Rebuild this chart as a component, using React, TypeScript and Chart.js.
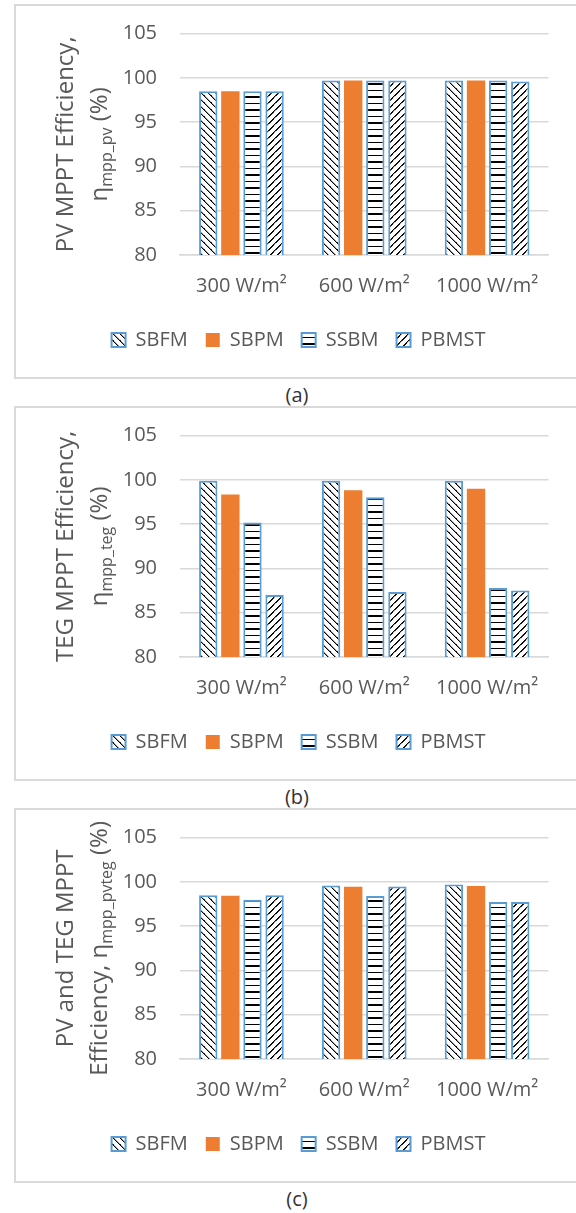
import React, { useEffect, useRef } from 'react';
import { Chart, registerables } from 'chart.js';

Chart.register(...registerables);

// ---------- data ----------
const categories = ['300 W/m²', '600 W/m²', '1000 W/m²'];
const seriesNames = ['SBFM', 'SBPM', 'SSBM', 'PBMST'];
const yMin = 80;
const yMax = 105;
const yStep = 5;

// (a) PV MPPT efficiency
const pvSBFM = [98.5, 99.7, 99.7];
const pvSBPM = [98.5, 99.7, 99.7];
const pvSSBM = [98.5, 99.7, 99.7];
const pvPBMST = [98.5, 99.7, 99.6];

// (b) TEG MPPT efficiency
const tegSBFM = [99.9, 99.9, 99.9];
const tegSBPM = [98.35, 98.85, 99.0];
const tegSSBM = [95.2, 98.05, 87.8];
const tegPBMST = [87.0, 87.35, 87.5];

// (c) PV and TEG MPPT efficiency
const pvtegSBFM = [98.5, 99.6, 99.7];
const pvtegSBPM = [98.45, 99.45, 99.55];
const pvtegSSBM = [98.0, 98.4, 97.75];
const pvtegPBMST = [98.5, 99.5, 97.75];

type Seg = { t: string; sub?: boolean };

const titleA: Seg[][] = [
  [{ t: 'PV MPPT Efficiency,' }],
  [{ t: 'η' }, { t: 'mpp_pv', sub: true }, { t: ' (%)' }],
];
const titleB: Seg[][] = [
  [{ t: 'TEG MPPT Efficiency,' }],
  [{ t: 'η' }, { t: 'mpp_teg', sub: true }, { t: ' (%)' }],
];
const titleC: Seg[][] = [
  [{ t: 'PV and TEG MPPT' }],
  [{ t: 'Efficiency, η' }, { t: 'mpp_pvteg', sub: true }, { t: ' (%)' }],
];

// ---------- styles ----------
const FONT = "'Open Sans', 'DejaVu Sans', sans-serif";
const TEXT = '#595959';
const BLUE = '#5B9BD5';
const ORANGE = '#ED7D31';
const GRID = '#D9D9D9';
const LEGEND_PAD = 18;
const CANVAS_W = 567;
const CANVAS_H = 373;

function makePattern(ctx: CanvasRenderingContext2D, kind: 'd' | 'u' | 'h') {
  const n = kind === 'h' ? 13 : 7;
  const c = document.createElement('canvas');
  c.width = n;
  c.height = n;
  const g = c.getContext('2d')!;
  g.fillStyle = '#ffffff';
  g.fillRect(0, 0, n, n);
  for (let y = 0; y < n; y++) {
    for (let x = 0; x < n; x++) {
      let col = '';
      if (kind === 'd' || kind === 'u') {
        const k = kind === 'd' ? (x - y + n) % n : (x + y) % n;
        if (k === 0) col = '#000000';
        else if (k === 1) col = (x + y) % 2 === 0 ? '#222222' : '#9a9a9a';
      } else if (y === 0 || y === 1 || y === 7) {
        col = '#000000';
      }
      if (col) {
        g.fillStyle = col;
        g.fillRect(x, y, 1, 1);
      }
    }
  }
  return ctx.createPattern(c, 'repeat') as CanvasPattern;
}

function makeYTitlePlugin(lines: Seg[][]) {
  const baselines = [58.3, 91.7];
  return {
    id: 'yTitleCustom',
    afterDraw(chart: any) {
      const { ctx, chartArea } = chart;
      const cy = (chartArea.top + chartArea.bottom) / 2;
      lines.forEach((segs, i) => {
        ctx.save();
        ctx.translate(baselines[i], cy);
        ctx.rotate(-Math.PI / 2);
        ctx.fillStyle = TEXT;
        ctx.textBaseline = 'alphabetic';
        ctx.textAlign = 'left';
        const fontFor = (s: Seg) => `${s.sub ? 16 : 24}px ${FONT}`;
        let total = 0;
        const widths = segs.map((s) => {
          ctx.font = fontFor(s);
          const w = ctx.measureText(s.t).width;
          total += w;
          return w;
        });
        let x = -total / 2;
        segs.forEach((s, j) => {
          ctx.font = fontFor(s);
          ctx.fillText(s.t, x, s.sub ? 5 : 0);
          x += widths[j];
        });
        ctx.restore();
      });
    },
  };
}

type PanelProps = {
  top: number;
  values: number[][];
  title: Seg[][];
  caption: string;
};

function Panel({ top, values, title, caption }: PanelProps) {
  const ref = useRef<HTMLCanvasElement>(null);

  useEffect(() => {
    const canvas = ref.current!;
    const ctx = canvas.getContext('2d')!;
    const fills: (string | CanvasPattern)[] = [
      makePattern(ctx, 'd'),
      ORANGE,
      makePattern(ctx, 'h'),
      makePattern(ctx, 'u'),
    ];
    const chart = new Chart(canvas, {
      type: 'bar',
      data: {
        labels: categories,
        datasets: seriesNames.map((name, i) => ({
          label: name,
          data: values[i],
          backgroundColor: fills[i] as any,
          borderColor: BLUE,
          borderWidth: i === 1 ? 0 : 2,
          borderSkipped: false,
          categoryPercentage: 0.72,
          barPercentage: 0.83,
        })),
      },
      options: {
        responsive: false,
        animation: false,
        layout: { padding: { top: 28.7, left: 0, right: 0, bottom: 18 } },
        font: { family: FONT },
        plugins: {
          legend: {
            position: 'bottom',
            labels: {
              boxWidth: 14,
              boxHeight: 14,
              padding: LEGEND_PAD,
              color: TEXT,
              font: { family: FONT, size: 20 },
            },
          },
          tooltip: { enabled: false },
          title: { display: false },
        },
        scales: {
          x: {
            grid: { display: false, drawTicks: false },
            border: { display: true, color: GRID, width: 1.5 },
            ticks: { color: TEXT, font: { family: FONT, size: 20 }, padding: 19, maxRotation: 0 },
            afterFit: (s: any) => {
              s.height = 75 - LEGEND_PAD;
            },
          },
          y: {
            min: yMin,
            max: yMax,
            ticks: { stepSize: yStep, color: TEXT, font: { family: FONT, size: 20 }, padding: 0 },
            grid: {
              color: GRID,
              lineWidth: 1.5,
              drawTicks: true,
              tickLength: 23,
              tickColor: 'rgba(0,0,0,0)',
            },
            border: { display: false },
            afterFit: (s: any) => {
              s.width = 165;
            },
          },
          y2: {
            type: 'linear',
            position: 'right',
            display: true,
            grid: { display: false, drawTicks: false },
            border: { display: false },
            ticks: { display: false },
            afterFit: (s: any) => {
              s.width = 33.5;
            },
          },
        },
      } as any,
      plugins: [makeYTitlePlugin(title)],
    });
    return () => chart.destroy();
  }, []);

  return (
    <>
      <div
        style={{
          position: 'absolute',
          left: 14,
          top: top - 1,
          width: 620,
          height: 375,
          border: '2px solid #d9d9d9',
          boxSizing: 'border-box',
        }}
      />
      <canvas
        ref={ref}
        width={CANVAS_W}
        height={CANVAS_H}
        style={{ position: 'absolute', left: 15, top, width: CANVAS_W, height: CANVAS_H }}
      />
      <div
        style={{
          position: 'absolute',
          left: 0,
          width: 594,
          top: top + 378,
          textAlign: 'center',
          fontFamily: FONT,
          fontSize: 20,
          lineHeight: '24px',
          color: '#333333',
        }}
      >
        {caption}
      </div>
    </>
  );
}

export default function App() {
  return (
    <div
      style={{
        position: 'absolute',
        left: 0,
        top: 0,
        width: 576,
        height: 1213,
        overflow: 'hidden',
        background: '#ffffff',
      }}
    >
      <Panel top={5} values={[pvSBFM, pvSBPM, pvSSBM, pvPBMST]} title={titleA} caption="(a)" />
      <Panel top={407} values={[tegSBFM, tegSBPM, tegSSBM, tegPBMST]} title={titleB} caption="(b)" />
      <Panel top={809} values={[pvtegSBFM, pvtegSBPM, pvtegSSBM, pvtegPBMST]} title={titleC} caption="(c)" />
    </div>
  );
}
